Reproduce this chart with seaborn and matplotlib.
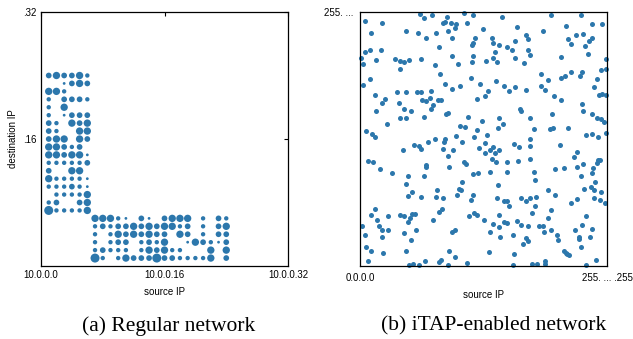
import numpy as np
import pandas as pd
import matplotlib
matplotlib.use("Agg")
import matplotlib.pyplot as plt
import seaborn as sns

sns.set_theme(style="white")
plt.rcParams['font.family'] = ['Liberation Sans', 'DejaVu Sans']
plt.rcParams['text.color'] = 'black'
plt.rcParams['axes.labelcolor'] = 'black'

DOT = "#2c77ac"

# ---------------- (a) Regular network: traffic matrix (size level 0..5) ----------------
upper_cols = [1, 2, 3, 4, 5, 6]
upper_rows = [24, 23, 22, 21, 20, 19, 18, 17, 16, 15, 14, 13, 12, 11, 10, 9, 8, 7]
upper_levels = [
    [3, 4, 3, 3, 4, 2],
    [0, 0, 1, 3, 4, 3],
    [4, 4, 2, 0, 0, 0],
    [2, 0, 3, 3, 3, 2],
    [2, 0, 4, 0, 0, 0],
    [2, 0, 1, 3, 3, 3],
    [3, 2, 0, 4, 3, 4],
    [3, 2, 0, 0, 4, 4],
    [3, 4, 4, 0, 4, 3],
    [4, 4, 3, 2, 3, 0],
    [4, 4, 3, 4, 4, 1],
    [2, 2, 2, 2, 2, 3],
    [3, 0, 0, 4, 4, 0],
    [4, 2, 2, 2, 2, 1],
    [2, 2, 2, 3, 2, 1],
    [0, 2, 2, 2, 2, 4],
    [2, 3, 0, 0, 3, 4],
    [5, 2, 2, 2, 2, 4],
]
lower_cols = [7, 8, 9, 10, 11, 12, 13, 14, 15, 16, 17, 18, 19, 20, 21, 22, 23, 24]
lower_rows = [6, 5, 4, 3, 2, 1]
lower_levels = [
    [4, 4, 4, 2, 1, 0, 3, 1, 0, 3, 4, 4, 4, 0, 2, 0, 3, 2],
    [2, 3, 2, 3, 3, 4, 3, 4, 3, 4, 4, 2, 3, 0, 2, 0, 3, 4],
    [2, 0, 2, 4, 3, 4, 3, 4, 3, 3, 0, 4, 3, 0, 2, 0, 3, 3],
    [2, 0, 2, 3, 3, 0, 2, 3, 2, 4, 0, 0, 1, 4, 3, 2, 1, 3],
    [2, 3, 2, 2, 2, 0, 2, 4, 3, 4, 2, 2, 0, 0, 0, 4, 0, 4],
    [5, 2, 0, 2, 4, 3, 3, 3, 5, 3, 3, 2, 2, 2, 2, 4, 0, 3],
]
left_xticks = [0, 16, 32]
left_xlabels = ["10.0.0.0", "10.0.0.16", "10.0.0.32"]
left_yticks = [16, 32]
left_ylabels = [".16", ".32"]

# ---------------- (b) iTAP-enabled network: scattered flows ----------------
itap_src = [
    62, 74, 107, 117, 90, 66, 88, 86, 94, 99, 110, 5, 23, 98, 11, 47, 60, 78, 91, 127, 68, 95, 119, 117, 116,
    5, 10, 22, 82, 95, 117, 1, 3, 17, 36, 41, 45, 51, 63, 77, 101, 116, 41, 83, 10, 3, 88, 95, 103, 115, 124,
    38, 48, 59, 63, 73, 15, 26, 23, 40, 64, 68, 72, 81, 84, 75, 121, 45, 53, 73, 17, 89, 91, 41, 48, 66, 111,
    28, 103, 108, 126, 6, 12, 16, 121, 99, 118, 77, 88,
    147, 197, 228, 162, 189, 213, 240, 250, 136, 137, 144, 160, 171, 173, 152, 157, 173, 176, 139, 137, 141,
    130, 160, 169, 208, 215, 218, 223, 230, 236, 240, 232, 235, 254, 187, 194, 207, 212, 218, 229, 227, 249,
    254, 245, 140, 149, 154, 160, 171, 187, 191, 132, 129, 200, 208, 242, 247, 250, 254, 229, 230, 240, 165,
    166, 198, 143, 148, 175, 142, 180, 196, 199, 215, 245, 249, 252, 131, 233, 240, 246, 175, 254,
    87, 56, 61, 63, 70, 44, 86, 96, 105, 123, 8, 13, 21, 33, 68, 68, 91, 92, 107, 109, 122, 117, 66, 50, 47,
    54, 50, 63, 79, 78, 86, 105, 102, 104, 100, 117, 115, 15, 11, 18, 29, 41, 45, 54, 57, 52, 50, 82, 85, 75,
    113, 118, 121, 2, 5, 20, 23, 29, 23, 45, 58, 53, 95, 98, 6, 11, 24, 48, 8, 51, 55, 61, 67, 82, 84, 91, 92,
    98, 110,
    129, 129, 134, 137, 139, 144, 136, 140, 159, 164, 176, 206, 163, 175, 152, 152, 134, 142, 180, 181, 201,
    211, 194, 201, 224, 221, 230, 224, 228, 231, 238, 240, 241, 243, 242, 245, 246, 248, 249, 242, 248, 253,
    141, 149, 152, 154, 166, 171, 176, 182, 181, 218, 224, 128, 143, 137, 143, 149, 152, 162, 166, 173, 178,
    185, 189, 194, 197, 197, 190, 134, 145, 158, 171, 173, 168, 203, 204, 222, 229, 233, 240, 226, 226, 237,
    228, 211, 213, 214, 216, 133, 159, 191, 191, 178, 183, 158, 233, 244,
]
itap_dst = [
    253, 252, 254, 252, 250, 249, 245, 244, 244, 243, 244, 246, 244, 239, 234, 236, 234, 234, 236, 238, 229,
    229, 229, 224, 222, 215, 217, 217, 220, 211, 211, 209, 203, 207, 208, 206, 205, 207, 208, 202, 203, 205,
    198, 193, 188, 182, 183, 178, 181, 189, 183, 175, 175, 175, 175, 176, 172, 168, 164, 164, 167, 166, 169,
    167, 167, 162, 168, 158, 156, 158, 156, 153, 154, 149, 149, 150, 150, 143, 141, 140, 146, 136, 133, 130,
    137, 131, 130, 127, 128,
    250, 252, 252, 240, 236, 241, 243, 243, 229, 224, 222, 226, 232, 228, 220, 217, 217, 212, 215, 209, 205,
    206, 209, 204, 210, 228, 223, 232, 233, 226, 229, 221, 213, 208, 193, 187, 189, 191, 195, 195, 191, 197,
    198, 188, 186, 181, 176, 180, 177, 181, 177, 176, 171, 171, 167, 180, 172, 173, 172, 163, 156, 153, 158,
    156, 153, 149, 143, 149, 139, 138, 138, 139, 139, 149, 148, 145, 132, 132, 133, 130, 128, 134,
    124, 121, 120, 117, 124, 116, 117, 116, 124, 118, 105, 104, 97, 93, 101, 99, 110, 99, 104, 102, 93, 92,
    90, 90, 82, 74, 70, 69, 76, 69, 68, 84, 77, 76, 71, 71, 66, 57, 51, 46, 50, 51, 50, 52, 52, 48, 44, 54,
    57, 46, 50, 53, 51, 40, 31, 40, 36, 36, 29, 33, 36, 26, 34, 36, 19, 15, 13, 15, 5, 1, 2, 1, 5, 4, 6, 1,
    15, 9, 3,
    123, 113, 116, 119, 113, 116, 107, 104, 122, 119, 120, 121, 105, 107, 104, 94, 94, 81, 94, 86, 97, 98,
    76, 71, 114, 109, 102, 99, 90, 77, 79, 93, 98, 84, 76, 103, 106, 106, 74, 68, 66, 63, 68, 65, 65, 60, 68,
    65, 68, 69, 60, 63, 67, 46, 51, 42, 39, 44, 43, 45, 41, 40, 53, 40, 40, 48, 56, 36, 34, 34, 29, 31, 28,
    25, 22, 31, 26, 36, 41, 50, 37, 29, 27, 29, 19, 15, 13, 12, 11, 14, 12, 5, 2, 2, 2, 1, 1, 6,
]
right_xticks = [0, 255]
right_xlabels = ["0.0.0.0", "255. ... .255"]
right_yticks = [255]
right_ylabels = ["255. ..."]

captions = ["(a) Regular network", "(b) iTAP-enabled network"]

# ---------------- build tables ----------------
rows = []
for r, lv in zip(upper_rows, upper_levels):
    for c, v in zip(upper_cols, lv):
        if v > 0:
            rows.append((c, r, v))
for r, lv in zip(lower_rows, lower_levels):
    for c, v in zip(lower_cols, lv):
        if v > 0:
            rows.append((c, r, v))
df_a = pd.DataFrame(rows, columns=["src", "dst", "level"])
n = min(len(itap_src), len(itap_dst))
df_b = pd.DataFrame({"src": itap_src[:n], "dst": itap_dst[:n]})

W, H = 633, 339
fig = plt.figure(figsize=(W / 100, H / 100), dpi=100)
ax1 = fig.add_axes([41 / W, 73 / H, 247 / W, 254 / H])
ax2 = fig.add_axes([360 / W, 73 / H, 247 / W, 254 / H])

sizes = {1: 4, 2: 10, 3: 17, 4: 28, 5: 42}
sns.scatterplot(data=df_a, x="src", y="dst", size="level", sizes=sizes, color=DOT,
                linewidth=0, legend=False, ax=ax1)
sns.scatterplot(data=df_b, x="src", y="dst", s=13, color=DOT, linewidth=0,
                legend=False, ax=ax2, clip_on=False)

ax1.set_xlim(0, 32)
ax1.set_ylim(0, 32)
ax1.set_xticks(left_xticks)
ax1.set_xticklabels(left_xlabels)
ax1.set_yticks(left_yticks)
ax1.set_yticklabels(left_ylabels)
ax1.tick_params(direction="in", top=True, right=True, length=3, width=0.8,
                labelsize=7, pad=3, colors="black")
ax1.set_xlabel("source IP", fontsize=7, labelpad=5)
ax1.set_ylabel("destination IP", fontsize=7, labelpad=4)

ax2.set_xlim(0, 255)
ax2.set_ylim(0, 255)
ax2.set_xticks(right_xticks)
ax2.set_xticklabels(right_xlabels)
ax2.set_yticks(right_yticks)
ax2.set_yticklabels(right_ylabels)
ax2.tick_params(length=0, labelsize=7, pad=5, colors="black")
ax2.set_xlabel("source IP", fontsize=7, labelpad=5)
ax2.set_ylabel("")

for ax in (ax1, ax2):
    for sp in ax.spines.values():
        sp.set_visible(True)
        sp.set_color("black")
        sp.set_linewidth(0.9)

fig.text(169 / W, 1 - 326 / H, captions[0], ha="center", va="center", color="black",
         family=["Liberation Serif", "DejaVu Serif"], fontsize=15.5)
fig.text(494 / W, 1 - 326 / H, captions[1], ha="center", va="center", color="black",
         family=["Liberation Serif", "DejaVu Serif"], fontsize=15.5)

fig.savefig("out.png", dpi=100)
